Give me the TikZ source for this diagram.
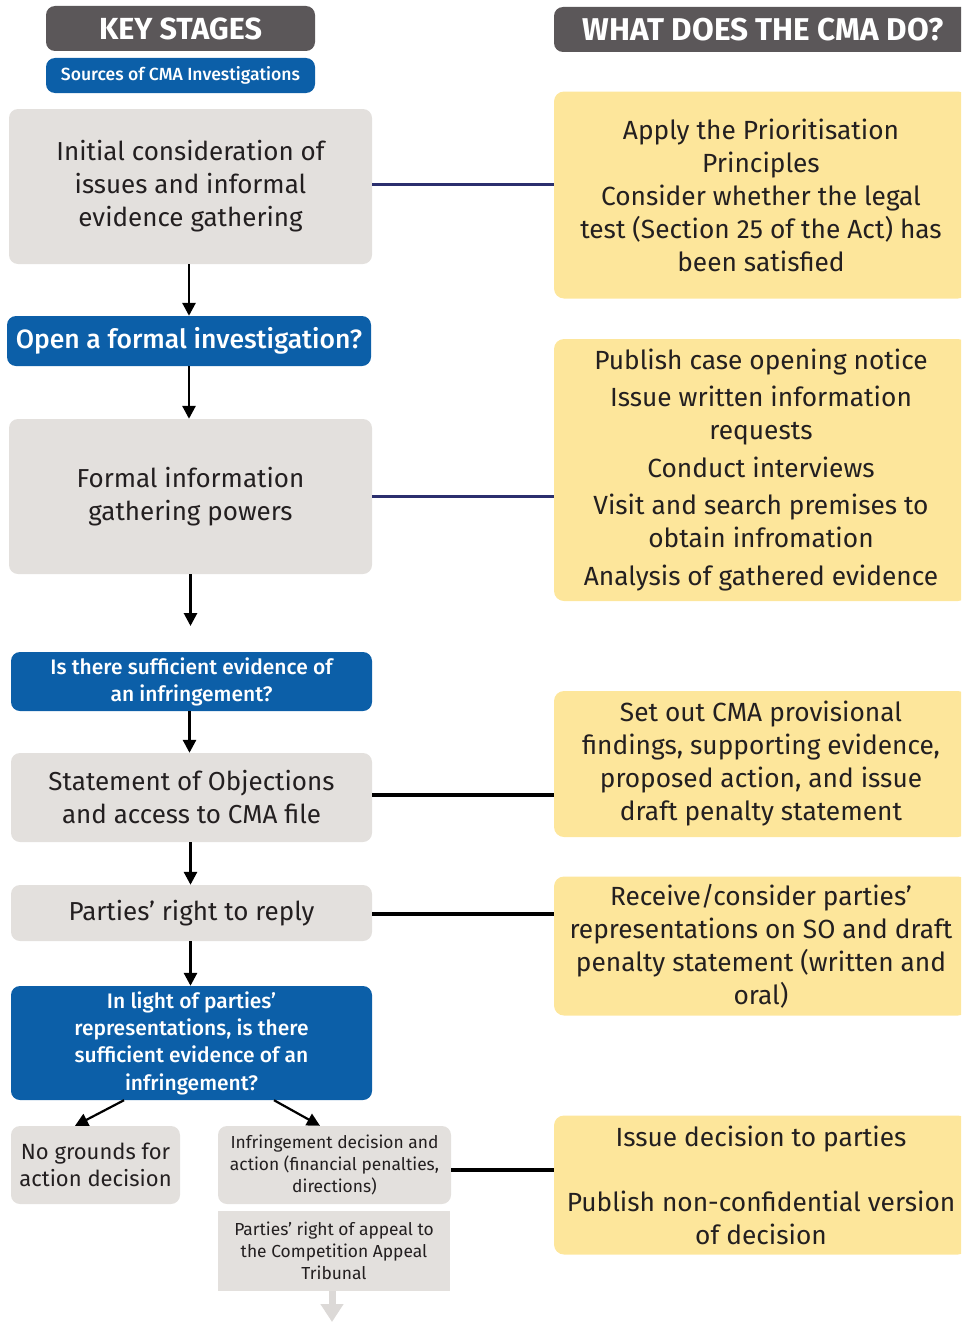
\documentclass[tikz,border=0pt]{standalone}
\usepackage{fontspec}
\setmainfont{Fira Sans}
\newfontfamily\medfont{Fira Sans Medium}
\usetikzlibrary{arrows.meta}
\definecolor{boxgray}{HTML}{E3E0DD}
\definecolor{cmablue}{HTML}{0C5FA8}
\definecolor{yel}{HTML}{FDE69B}
\definecolor{hdrgray}{HTML}{5B5759}
\definecolor{txt}{HTML}{231F20}
\definecolor{navyc}{HTML}{2B2F6E}
\definecolor{lgray}{HTML}{DCD9D7}
\tikzset{
  gbox/.style={fill=boxgray, rounded corners=9pt, inner sep=0pt, align=center, text=txt, font=\fontsize{26}{33}\selectfont},
  bbox/.style={fill=cmablue, rounded corners=9pt, inner sep=0pt, align=center, text=white},
  ybox/.style={fill=yel, rounded corners=10pt, inner sep=0pt, align=center, text=txt, font=\fontsize{26.3}{33}\selectfont, minimum width=414pt},
  hdr/.style={fill=hdrgray, rounded corners=9pt, inner sep=0pt, text=white},
  arr/.style={draw=black, line width=2.8pt, -{Triangle[width=13pt,length=13pt]}},
  navyline/.style={draw=navyc, line width=3pt},
  blkline/.style={draw=black, line width=3.5pt},
}
\begin{document}
\begin{tikzpicture}[x=1pt,y=-1pt]
\useasboundingbox (0,0) rectangle (961,1322);
\clip (0,0) rectangle (961,1322);
% headers
\node[hdr, minimum width=269pt, minimum height=45pt, font=\bfseries\fontsize{30.5}{31}\selectfont] (ks) at (180.5,28.5) {KEY STAGES};
\node[bbox, minimum width=269pt, minimum height=35pt, font=\medfont\fontsize{17.6}{20}\selectfont] (src) at (180.5,75.5) {Sources of CMA Investigations};
\node[hdr, minimum width=421pt, minimum height=45pt, font=\bfseries\fontsize{31.5}{32}\selectfont] (what) at (764.5,29.5) {\hspace*{-3pt}WHAT DOES THE CMA DO?};
% left column
\node[gbox, minimum width=363pt, minimum height=155pt] (b1) at (190.5,186.5) {Initial consideration of\\issues and informal\\evidence gathering};
\node[bbox, minimum width=364pt, minimum height=50pt, font=\medfont\fontsize{26.5}{30}\selectfont] (open) at (189,341) {Open a formal investigation?};
\node[gbox, minimum width=363pt, minimum height=155pt] (b2) at (190.5,496.5) {Formal information\\gathering powers};
\node[bbox, minimum width=361pt, minimum height=59pt, font=\medfont\fontsize{21}{27}\selectfont] (q1) at (191.5,681.5) {Is there sufficient evidence of\\an infringement?};
\node[gbox, minimum width=361pt, minimum height=89pt] (so) at (191.5,797.5) {Statement of Objections\\and access to CMA file};
\node[gbox, minimum width=361pt, minimum height=56pt] (reply) at (191.5,913) {Parties’ right to reply};
\node[bbox, minimum width=361pt, minimum height=114pt, font=\medfont\fontsize{21}{27.3}\selectfont] (q2) at (191.5,1043) {In light of parties’\\representations, is there\\sufficient evidence of an\\infringement?};
\node[gbox, minimum width=169pt, minimum height=78pt, font=\fontsize{22}{27}\selectfont] (nog) at (95.5,1165) {No grounds for\\action decision};
\node[gbox, minimum width=233pt, minimum height=78pt, font=\fontsize{17.4}{22}\selectfont] (inf) at (334.5,1165) {Infringement decision and\\action (financial penalties,\\directions)};
\node[gbox, rounded corners=0pt, minimum width=232pt, minimum height=80pt, font=\fontsize{17.4}{22}\selectfont] (app) at (334,1251) {Parties’ right of appeal to\\the Competition Appeal\\Tribunal};
% right column
\node[ybox, minimum height=207pt] (y1) at (761,195) {Apply the Prioritisation\\Principles\\Consider whether the legal\\test (Section 25 of the Act) has\\been satisfied};
\node[ybox, minimum height=262pt] (y2) at (761,470) {Publish case opening notice\\[4pt]Issue written information\\requests\\[5pt]Conduct interviews\\[4pt]Visit and search premises to\\obtain infromation\\[5pt]Analysis of gathered evidence};
\node[ybox, minimum height=146pt] (y3) at (761,764) {Set out CMA provisional\\findings, supporting evidence,\\proposed action, and issue\\draft penalty statement};
\node[ybox, minimum height=139pt] (y4) at (761,946) {Receive/consider parties’\\representations on SO and draft\\penalty statement (written and\\oral)};
\node[ybox, minimum height=139pt] (y5) at (761,1185) {Issue decision to parties\\[32pt]Publish non-confidential version\\of decision};
% vertical arrows
\draw[arr] (open.north |- b1.south) -- (open.north);
\draw[arr] (open.south) -- (open.south |- b2.north);
\coordinate (gapend) at (190.5,626);
\draw[arr] (b2.south) -- (gapend);
\draw[arr] ([xshift=-2pt]q1.south) -- ([xshift=-2pt]so.north);
\draw[arr] ([xshift=-1pt]so.south) -- ([xshift=-1pt]reply.north);
\draw[arr] ([xshift=-1pt]reply.south) -- ([xshift=-1pt]q2.north);
\draw[arr, line width=2.2pt] ([xshift=-67.5pt]q2.south) -- ([xshift=-20.5pt]nog.north);
\draw[arr, line width=2.2pt] ([xshift=82.5pt]q2.south) -- ([xshift=-14.5pt]inf.north);
\coordinate (append) at (332,1322);
\draw[draw=lgray, line width=7pt, -{Triangle[width=22pt,length=18pt]}] ([xshift=-2pt]app.south) -- (append);
% horizontal connectors
\draw[navyline] ([yshift=2.5pt]b1.east) -- ([yshift=2.5pt]b1.east -| y1.west);
\draw[navyline] (b2.east) -- (b2.east -| y2.west);
\draw[blkline] ([yshift=2.5pt]so.east) -- ([yshift=2.5pt]so.east -| y3.west);
\draw[blkline] ([yshift=-1pt]reply.east) -- ([yshift=-1pt]reply.east -| y4.west);
\draw[blkline] ([yshift=-5pt]inf.east) -- ([yshift=-5pt]inf.east -| y5.west);
\end{tikzpicture}
\end{document}
